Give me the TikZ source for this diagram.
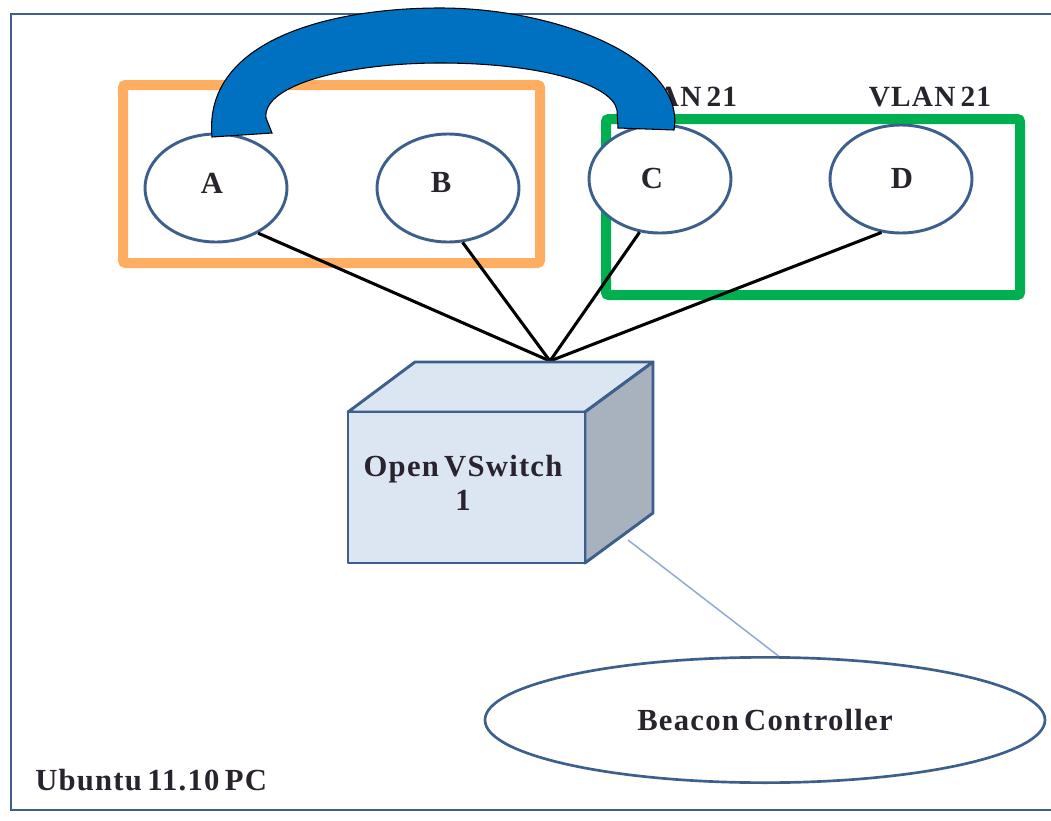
\documentclass[tikz,border=0pt]{standalone}
\usepackage{fontspec}
\setmainfont{Liberation Serif}[LetterSpace=4, WordSpace=0.6]
\usetikzlibrary{shapes.geometric}
\definecolor{framecol}{RGB}{60,95,140}
\definecolor{orangecol}{RGB}{255,173,96}
\definecolor{greencol}{RGB}{0,176,80}
\definecolor{bandcol}{RGB}{0,112,192}
\definecolor{frontcol}{RGB}{220,230,242}
\definecolor{sidecol}{RGB}{168,178,190}
\definecolor{linkcol}{RGB}{140,170,210}
\definecolor{textcol}{RGB}{40,35,45}
\tikzset{
  host/.style={ellipse, draw=framecol, line width=2.2pt, fill=white, minimum width=106.5pt, minimum height=81pt, inner sep=0pt, text=textcol, font=\fontsize{23}{24}\selectfont\bfseries},
  hostname/.style={inner sep=0pt, text=textcol, font=\fontsize{23}{24}\selectfont\bfseries},
  vlanbox/.style={line width=7.5pt, rounded corners=2pt},
  wire/.style={black, line width=2.3pt},
  lbl/.style={inner sep=0pt, text=textcol, font=\fontsize{23}{25}\selectfont\bfseries},
}
\begin{document}
\begin{tikzpicture}[x=0.75pt,y=-0.75pt]
\useasboundingbox (0,0) rectangle (1051,821);
\fill[white] (0,0) rectangle (1051,821);
% outer frame
\draw[framecol, line width=2.2pt] (1070,14) -- (11,14) -- (11,810) -- (1070,810);
\node[lbl, anchor=base west] (pc) at (35,790) {Ubuntu 11.10 PC};
% VLAN boxes
\draw[vlanbox, orangecol] (123,85) rectangle (540,263);
\draw[vlanbox, greencol] (606,119) rectangle (1020,295);
% VLAN labels
\node[lbl, font=\fontsize{22}{24}\selectfont\bfseries, anchor=base] (v1) at (676,106) {VLAN 21};
\node[lbl, font=\fontsize{22}{24}\selectfont\bfseries, anchor=base] (v2) at (930,106) {VLAN 21};
% hub
\coordinate (hub) at (550,361);
% hosts
\node[host] (A) at (216,188) {};
\node[host] (B) at (448,188) {};
\node[host] (C) at (660,179) {};
\node[host] (D) at (901,179) {};
\node[hostname] (Al) at (212,183) {A};
\node[hostname] (Bl) at (441,183) {B};
\node[hostname] (Cl) at (652,178) {C};
\node[hostname] (Dl) at (902,178) {D};
\draw[wire] (A.-47) -- (hub);
\draw[wire] (B.-75) -- (hub);
\draw[wire] (C.-111) -- (hub);
\draw[wire] (D.-110) -- (hub);
% blue band
\filldraw[fill=bandcol, draw=black, line width=0.8pt]
  (212,137) .. controls (203,40) and (330,8) .. (440,8)
  .. controls (560,8) and (686,60) .. (674,130)
  -- (618,128) -- (617,110)
  .. controls (612,84) and (540,63) .. (440,63)
  .. controls (350,63) and (262,84) .. (266,118) -- (272,133) -- cycle;
% switch cube
\filldraw[fill=frontcol, draw=framecol, line width=2.2pt, line join=round]
  (348,412) -- (415,362) -- (653,362) -- (585,412) -- cycle;
\filldraw[fill=sidecol, draw=framecol, line width=2.2pt, line join=round]
  (585,412) -- (653,362) -- (653,513) -- (585,563) -- cycle;
\filldraw[fill=frontcol, draw=framecol, line width=2.2pt, line join=round]
  (348,412) rectangle (585,563);
\node[lbl, align=center] (sw) at (463,483) {Open VSwitch\\1};
% controller
\node[ellipse, draw=framecol, line width=2pt, fill=white, minimum width=420pt, minimum height=94pt, inner sep=0pt, text=textcol, font=\fontsize{23}{24}\selectfont\bfseries] (bc) at (765,720) {Beacon Controller};
\coordinate (port) at (628,540);
\draw[linkcol, line width=1.1pt] (port) -- (bc.78);
\end{tikzpicture}
\end{document}
